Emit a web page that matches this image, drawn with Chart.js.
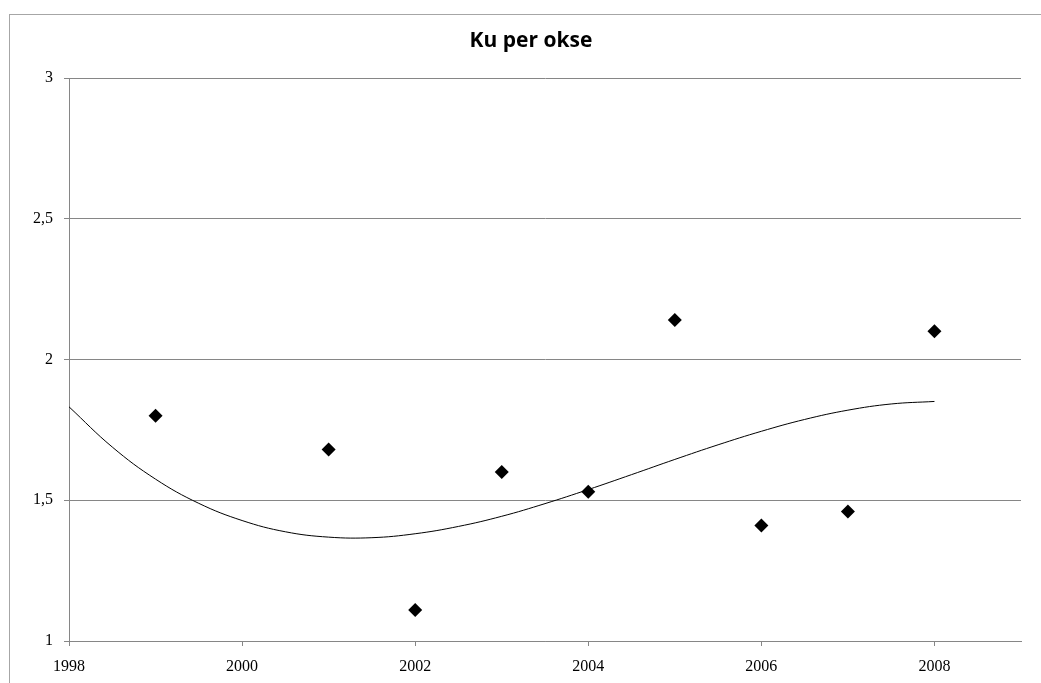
<!DOCTYPE html>
<html lang="no">
<head>
  <meta charset="UTF-8">
  <title>Ku per okse</title>
  <style>
body {
  margin: 0;
  background-color: #ffffff;
  overflow: hidden;
}

/* outer chart frame, runs past the right and bottom edge */
.frame {
  position: absolute;
  left: 9px;
  top: 14px;
  width: 1100px;
  height: 720px;
  border: 1px solid #a6a6a6;
}

.chart-container {
  position: absolute;
  left: 0;
  top: 0;
  width: 1041px;
  height: 683px;
}
  </style>
</head>
<body>
  <div class="frame"></div>
  <div class="chart-container">
    <canvas id="kuChart"></canvas>
  </div>

  <script src="https://cdn.jsdelivr.net/npm/chart.js"></script>
  <script>
    // observed values
    const years = [1999, 2001, 2002, 2003, 2004, 2005, 2006, 2007, 2008];
    const kuPerOkse = [1.80, 1.68, 1.11, 1.60, 1.53, 2.14, 1.41, 1.46, 2.10];

    // polynomial trend line, every half year
    const trendYears = [1998, 1998.5, 1999, 1999.5, 2000, 2000.5, 2001, 2001.5, 2002, 2002.5,
      2003, 2003.5, 2004, 2004.5, 2005, 2005.5, 2006, 2006.5, 2007, 2007.5, 2008];
    const trendValues = [1.832, 1.689, 1.575, 1.489, 1.428, 1.388, 1.369, 1.367, 1.381, 1.407,
      1.443, 1.488, 1.538, 1.591, 1.645, 1.697, 1.745, 1.787, 1.820, 1.842, 1.851];

    const xTicks = [1998, 2000, 2002, 2004, 2006, 2008];
    const yTicks = [1, 1.5, 2, 2.5, 3];
    const chartTitle = 'Ku per okse';

    const axisGray = '#868686';
    const serif = "'Liberation Serif', 'Times New Roman', serif";

    const points = years.map((yr, i) => ({ x: yr, y: kuPerOkse[i] }));
    const trend = trendYears.map((yr, i) => ({ x: yr, y: trendValues[i] }));

    // title drawn by hand so it can sit off-centre like the original
    const titlePlugin = {
      id: 'offsetTitle',
      afterDraw(chart) {
        const ctx = chart.ctx;
        ctx.save();
        ctx.font = "bold 21px 'Open Sans', sans-serif";
        ctx.fillStyle = '#000000';
        ctx.textAlign = 'center';
        ctx.textBaseline = 'alphabetic';
        ctx.fillText(chartTitle, 531, 47);
        ctx.restore();
      }
    };

    new Chart(document.getElementById('kuChart').getContext('2d'), {
      type: 'scatter',
      data: {
        datasets: [{
          label: 'Ku per okse',
          data: points,
          pointStyle: 'rectRot',
          pointRadius: 7,
          pointBackgroundColor: '#000000',
          pointBorderColor: '#000000',
          pointBorderWidth: 0,
          order: 1
        }, {
          label: 'Trend',
          data: trend,
          showLine: true,
          borderColor: '#000000',
          borderWidth: 1,
          pointRadius: 0,
          tension: 0.4,
          order: 2
        }]
      },
      options: {
        responsive: true,
        maintainAspectRatio: false,
        animation: false,
        layout: {
          padding: { left: 9, right: 20, top: 78, bottom: 0 }
        },
        plugins: {
          legend: { display: false },
          tooltip: { enabled: false },
          title: { display: false }
        },
        scales: {
          x: {
            type: 'linear',
            min: 1998,
            max: 2009,
            afterFit: s => { s.height = 42; },
            afterBuildTicks: s => { s.ticks = xTicks.map(v => ({ value: v })); },
            border: { color: axisGray, width: 1 },
            grid: { drawOnChartArea: false, drawTicks: true, tickLength: 5, color: axisGray },
            ticks: {
              color: '#000000',
              padding: 11,
              maxRotation: 0,
              font: { family: serif, size: 16 },
              callback: v => String(v)
            }
          },
          y: {
            min: 1,
            max: 3,
            afterFit: s => { s.width = 60; },
            afterBuildTicks: s => { s.ticks = yTicks.map(v => ({ value: v })); },
            border: { color: axisGray, width: 1 },
            grid: { color: axisGray, tickLength: 5 },
            ticks: {
              color: '#000000',
              padding: 11,
              font: { family: serif, size: 16 },
              callback: v => String(v).replace('.', ',')
            }
          }
        }
      },
      plugins: [titlePlugin]
    });
  </script>
</body>
</html>
